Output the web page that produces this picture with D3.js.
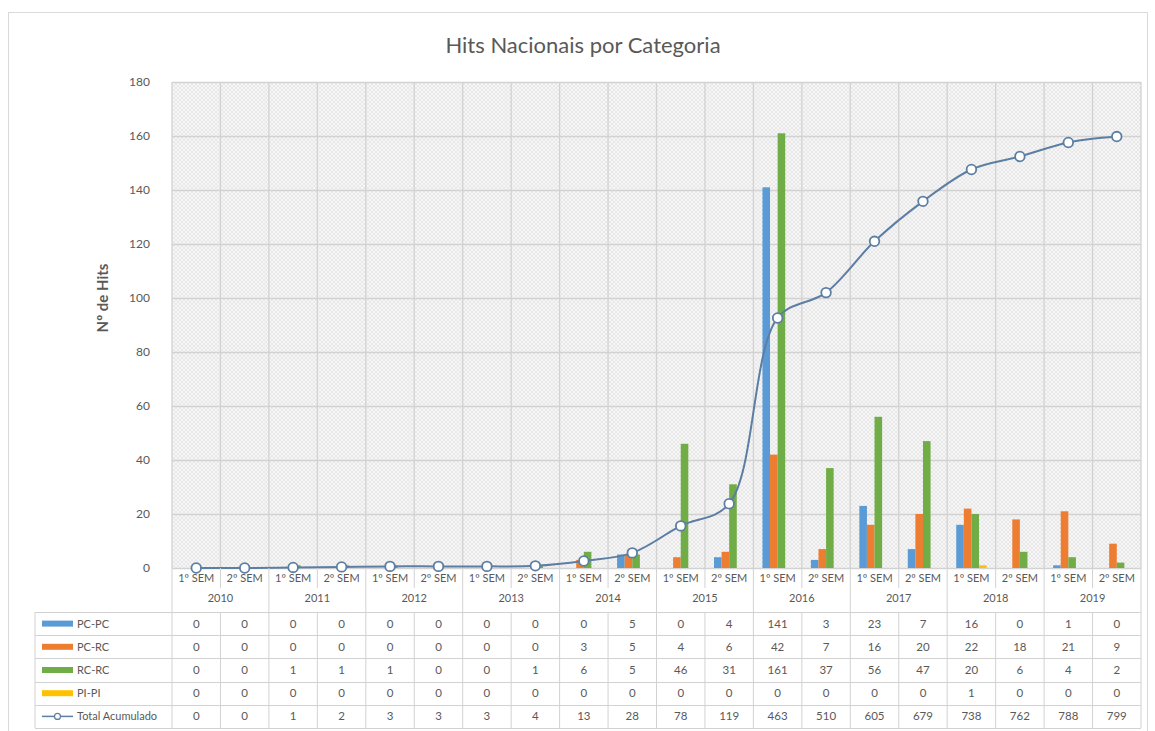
<!DOCTYPE html>
<html>
<head>
<meta charset="utf-8">
<script src="https://cdn.jsdelivr.net/npm/d3@7"></script>
<style>
html,body{margin:0;padding:0;background:#fff;}
svg{display:block;font-family:Lato,"Open Sans",sans-serif;}
</style>
</head>
<body>
<svg id="chart" width="1155" height="731"></svg>
<script>
// ---- data ----
const years = ["2010","2011","2012","2013","2014","2015","2016","2017","2018","2019"];
const semesters = ["1º SEM","2º SEM"];
const seriesNames = ["PC-PC","PC-RC","RC-RC","PI-PI"];
const seriesColors = ["#5b9bd5","#ed7d31","#70ad47","#ffc000"];
const pcpc = [0,0,0,0,0,0,0,0,0,5,0,4,141,3,23,7,16,0,1,0];
const pcrc = [0,0,0,0,0,0,0,0,3,5,4,6,42,7,16,20,22,18,21,9];
const rcrc = [0,0,1,1,1,0,0,1,6,5,46,31,161,37,56,47,20,6,4,2];
const pipi = [0,0,0,0,0,0,0,0,0,0,0,0,0,0,0,0,1,0,0,0];
const total = [0,0,1,2,3,3,3,4,13,28,78,119,463,510,605,679,738,762,788,799];
const lineName = "Total Acumulado";
const yTicks = [0,20,40,60,80,100,120,140,160,180];
const title = "Hits Nacionais por Categoria";
const yTitle = "Nº de Hits";

const categories = [];
years.forEach(y => semesters.forEach(s => categories.push(y + "|" + s)));
const seriesData = [pcpc, pcrc, rcrc, pipi];

// ---- layout ----
const svg = d3.select("#chart");
const plotL = 172, plotR = 1141, plotT = 82, plotB = 568;
const tableL = 35, tableT = 612, rowH = 23.2;
const textCol = "#595959", gridCol = "#d2d2d2";

// frame
svg.append("rect").attr("x",8.5).attr("y",12.5).attr("width",1139).attr("height",730)
  .attr("fill","#fff").attr("stroke","#d9d9d9");

// pattern
const defs = svg.append("defs");
const pat = defs.append("pattern").attr("id","hatch").attr("patternUnits","userSpaceOnUse")
  .attr("width",4).attr("height",4);
pat.append("rect").attr("width",4).attr("height",4).attr("fill","#f6f6f6");
pat.append("path").attr("d","M0,4 L4,0 M0,0 L4,4").attr("stroke","#e2e2e2").attr("stroke-width",0.7);

const x = d3.scaleBand().domain(categories).range([plotL, plotR]).paddingInner(0).paddingOuter(0);
const xs = d3.scaleBand().domain(seriesNames).range([0, x.bandwidth()]).paddingInner(0).paddingOuter(1.19);
const y = d3.scaleLinear().domain([0,180]).range([plotB, plotT]);
const y2 = d3.scaleLinear().domain([0,900]).range([plotB, plotT]);

// plot background
svg.append("rect").attr("x",plotL).attr("y",plotT).attr("width",plotR-plotL).attr("height",plotB-plotT)
  .attr("fill","url(#hatch)");

// horizontal grid
svg.append("g").selectAll("line").data(yTicks).join("line")
  .attr("x1",plotL).attr("x2",plotR)
  .attr("y1",d=>Math.round(y(d))+0.5).attr("y2",d=>Math.round(y(d))+0.5)
  .attr("stroke",gridCol).attr("stroke-width",1.3);
// vertical grid at category boundaries
const bounds = categories.map(c => x(c)).concat([plotR]);
svg.append("g").selectAll("line").data(bounds).join("line")
  .attr("x1",d=>d).attr("x2",d=>d).attr("y1",plotT).attr("y2",plotB)
  .attr("stroke",gridCol).attr("stroke-width",1.3);

// y axis labels
const yAxis = d3.axisLeft(y).tickValues(yTicks).tickSize(0).tickPadding(0);
const gy = svg.append("g").attr("transform",`translate(150,0)`).call(yAxis);
gy.select(".domain").remove();
gy.selectAll("text").attr("fill",textCol).style("font-size","12px").style("font-family","Lato,sans-serif");

// y title
svg.append("text").attr("transform",`translate(108,298) rotate(-90)`)
  .attr("text-anchor","middle").attr("fill",textCol).style("font-size","15px").style("font-weight","bold")
  .text(yTitle);

// title
svg.append("text").attr("x",583).attr("y",53).attr("text-anchor","middle").attr("fill",textCol)
  .style("font-size","22px").text(title);

// bars
seriesNames.forEach((name, si) => {
  svg.append("g").selectAll("rect").data(seriesData[si].map((v,i)=>({v, c:categories[i]})))
    .join("rect")
    .attr("x",d=>x(d.c)+xs(name))
    .attr("width",xs.bandwidth())
    .attr("y",d=>y(d.v))
    .attr("height",d=>plotB - y(d.v))
    .attr("fill",seriesColors[si]);
});

// line
const lineColor = "#5d7ea4";
const lineGen = d3.line().x((d,i)=>x(categories[i]) + x.bandwidth()/2).y(d=>y2(d)).curve(d3.curveCatmullRom.alpha(0.5));
svg.append("path").datum(total).attr("d",lineGen).attr("fill","none").attr("stroke",lineColor).attr("stroke-width",2);
svg.append("g").selectAll("circle").data(total).join("circle")
  .attr("cx",(d,i)=>x(categories[i]) + x.bandwidth()/2).attr("cy",d=>y2(d)).attr("r",4.8)
  .attr("fill","#fff").attr("stroke",lineColor).attr("stroke-width",1.8);

// category axis labels (multi level)
const lab = svg.append("g");
categories.forEach((c,i) => {
  const cx = x(c) + x.bandwidth()/2;
  lab.append("text").attr("x",cx).attr("y",582).attr("text-anchor","middle").attr("fill",textCol)
    .style("font-size","11px").text(c.split("|")[1]);
});
years.forEach((yr,i) => {
  const x0 = x(yr+"|"+semesters[0]), x1 = x(yr+"|"+semesters[1]) + x.bandwidth();
  lab.append("text").attr("x",(x0+x1)/2).attr("y",602).attr("text-anchor","middle").attr("fill",textCol)
    .style("font-size","11px").text(yr);
});
// separators in label area
categories.forEach((c,i) => {
  const isYear = i % 2 === 0;
  lab.append("line").attr("x1",x(c)).attr("x2",x(c)).attr("y1",plotB).attr("y2",isYear ? tableT : 588)
    .attr("stroke",gridCol);
});
lab.append("line").attr("x1",plotR).attr("x2",plotR).attr("y1",plotB).attr("y2",tableT).attr("stroke",gridCol);

// data table
const rows = seriesNames.map((n,i)=>({name:n, vals:seriesData[i], color:seriesColors[i], type:"bar"}))
  .concat([{name:lineName, vals:total, color:lineColor, type:"line"}]);
const tbl = svg.append("g");
const nRows = rows.length;
for (let r = 0; r <= nRows; r++) {
  const yy = Math.round(tableT + r*rowH) + 0.5;
  tbl.append("line").attr("x1",tableL).attr("x2",plotR).attr("y1",yy).attr("y2",yy).attr("stroke",gridCol);
}
const tableB = tableT + nRows*rowH;
[tableL].concat(bounds).forEach(xx => {
  tbl.append("line").attr("x1",xx).attr("x2",xx).attr("y1",tableT).attr("y2",tableB).attr("stroke",gridCol);
});
rows.forEach((row, r) => {
  const cy = tableT + r*rowH + rowH/2;
  if (row.type === "bar") {
    tbl.append("rect").attr("x",42).attr("y",cy-3).attr("width",31).attr("height",6).attr("fill",row.color);
  } else {
    tbl.append("line").attr("x1",42).attr("x2",73).attr("y1",cy).attr("y2",cy).attr("stroke",row.color).attr("stroke-width",1.5);
    tbl.append("circle").attr("cx",57.5).attr("cy",cy).attr("r",3).attr("fill","#fff").attr("stroke",row.color).attr("stroke-width",1.2);
  }
  tbl.append("text").attr("x",77).attr("y",cy+4).attr("fill",textCol).style("font-size","11px").text(row.name);
  row.vals.forEach((v,i) => {
    tbl.append("text").attr("x",x(categories[i]) + x.bandwidth()/2).attr("y",cy+4)
      .attr("text-anchor","middle").attr("fill",textCol).style("font-size","11.5px").text(v);
  });
});
</script>
</body>
</html>
